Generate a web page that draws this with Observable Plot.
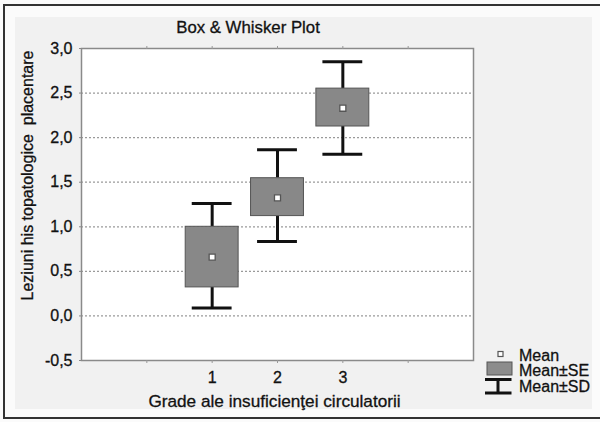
<!DOCTYPE html>
<html>
<head>
<meta charset="utf-8">
<script src="https://cdn.jsdelivr.net/npm/d3@7"></script>
<script src="https://cdn.jsdelivr.net/npm/@observablehq/plot@0.6"></script>
<style>
  html, body { margin: 0; padding: 0; background: #fbfbfb; overflow: hidden; }
  #wrap { position: relative; width: 600px; height: 422px; overflow: hidden; font-family: "Liberation Sans", Arial, sans-serif; }
  #border { position: absolute; left: 3px; top: 4px; width: 700px; height: 411px; border-top: 2px solid #333; border-left: 2px solid #333; border-bottom: 2px solid #333; }
  #panel { position: absolute; left: 15px; top: 17px; width: 577px; height: 392px; background: #f1f1f1; }
  #chart { position: absolute; left: 0; top: 0; }
  #legend { position: absolute; left: 480px; top: 344px; }
  svg text { stroke: #111; stroke-width: 0.3px; }
</style>
</head>
<body>
<div id="wrap">
  <div id="border"></div>
  <div id="panel"></div>
  <div id="chart"></div>
  <svg id="legend" width="120" height="56" font-family="Liberation Sans, Arial, sans-serif" font-size="16" fill="#111">
    <rect x="18" y="7.5" width="5" height="5" fill="white" stroke="#555" stroke-width="1.2"></rect>
    <text x="39" y="16.5">Mean</text>
    <rect x="7" y="18" width="25" height="13" fill="#8c8c8c" stroke="#555" stroke-width="1"></rect>
    <text x="39" y="32">Mean±SE</text>
    <line x1="5" x2="31.5" y1="35.5" y2="35.5" stroke="#111" stroke-width="3"></line>
    <line x1="5" x2="31.5" y1="49" y2="49" stroke="#111" stroke-width="3"></line>
    <line x1="18" x2="18" y1="35.5" y2="49" stroke="#111" stroke-width="3"></line>
    <text x="39" y="47.5">Mean±SD</text>
  </svg>
</div>
<script>
// ---- data ----
const groups = [1, 2, 3];
const means  = [0.66, 1.325, 2.33];
const seLow  = [0.32, 1.12, 2.125];
const seHigh = [1.0, 1.545, 2.55];
const sdLow  = [0.09, 0.835, 1.815];
const sdHigh = [1.26, 1.865, 2.85];
const yTicks = [-0.5, 0, 0.5, 1.0, 1.5, 2.0, 2.5, 3.0];
const xTicks = [0, 1, 2, 3, 4];
const title = "Box & Whisker Plot";
const xLabel = "Grade ale insuficienţei circulatorii";
const yLabel = "Leziuni his topatologice  placentare";

const data = groups.map((g, i) => ({
  g, mean: means[i], seLo: seLow[i], seHi: seHigh[i], sdLo: sdLow[i], sdHi: sdHigh[i]
}));
const gridVals = yTicks.filter(v => v > yTicks[0] && v < yTicks[yTicks.length - 1]);
const fmt = v => v.toFixed(1).replace(".", ",");

const BOX_HALF = 0.405, CAP_HALF = 0.305;

const chart = Plot.plot({
  width: 600,
  height: 422,
  marginTop: 48,
  marginBottom: 62,
  marginLeft: 81,
  marginRight: 127,
  style: { background: "transparent", fontFamily: "Liberation Sans, Arial, sans-serif", fontSize: "16px", color: "#111" },
  x: { type: "linear", domain: [-1, 5] },
  y: { domain: [-0.5, 3.0] },
  marks: [
    Plot.frame({ fill: "white", stroke: "none" }),
    Plot.ruleY(gridVals, { stroke: "#9a9a9a", strokeWidth: 1.3, strokeDasharray: "2,2" }),
    // whiskers (Mean±SD)
    Plot.ruleX(data, { x: "g", y1: "sdLo", y2: "seLo", stroke: "#111", strokeWidth: 3 }),
    Plot.ruleX(data, { x: "g", y1: "seHi", y2: "sdHi", stroke: "#111", strokeWidth: 3 }),
    Plot.ruleY(data, { y: "sdLo", x1: d => d.g - CAP_HALF, x2: d => d.g + CAP_HALF, stroke: "#111", strokeWidth: 3 }),
    Plot.ruleY(data, { y: "sdHi", x1: d => d.g - CAP_HALF, x2: d => d.g + CAP_HALF, stroke: "#111", strokeWidth: 3 }),
    // boxes (Mean±SE)
    Plot.rect(data, { x1: d => d.g - BOX_HALF, x2: d => d.g + BOX_HALF, y1: "seLo", y2: "seHi", fill: "#888", stroke: "#555", strokeWidth: 1 }),
    // means
    Plot.dot(data, { x: "g", y: "mean", symbol: "square", r: 3.4, fill: "white", stroke: "#555", strokeWidth: 1.3 }),
    Plot.frame({ stroke: "#8a8a8a", strokeWidth: 1.5 }),
    Plot.axisY(yTicks, { anchor: "left", tickSize: 2, tickPadding: 7, tickFormat: fmt, label: null, stroke: "#888", fill: "#111" }),
    Plot.axisX(xTicks, { anchor: "bottom", tickSize: 3, tickPadding: 8, tickFormat: d => groups.includes(d) ? String(d) : "", label: null, stroke: "#999", fill: "#111" }),
    Plot.axisX(xTicks, { anchor: "top", tickSize: 3, tickFormat: () => "", label: null, stroke: "#999" }),
    Plot.text([title], { frameAnchor: "top", textAnchor: "middle", lineAnchor: "middle", dx: -29.5, dy: -20.5, fontSize: 16.8, fill: "#111" }),
    Plot.text([xLabel], { frameAnchor: "bottom", textAnchor: "middle", lineAnchor: "middle", dx: -3, dy: 41, fontSize: 17.2, fill: "#111" }),
    Plot.text([yLabel], { frameAnchor: "left", textAnchor: "middle", lineAnchor: "middle", rotate: -90, dx: -54, dy: -29, fontSize: 16, fill: "#111" })
  ]
});
document.getElementById("chart").appendChild(chart);
</script>
</body>
</html>
